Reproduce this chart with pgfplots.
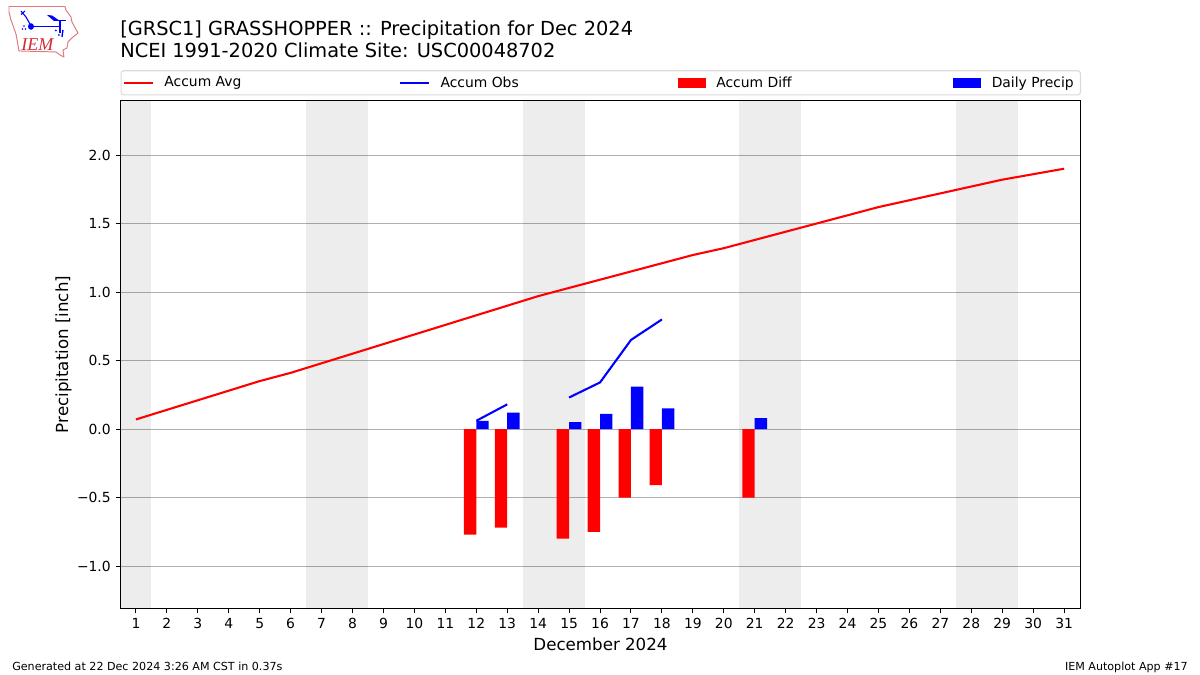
\documentclass[border=0pt]{standalone}
\usepackage{fontspec}
\setmainfont{DejaVu Sans}
\usepackage{pgfplots}
\pgfplotsset{compat=1.18}
\definecolor{gridgray}{HTML}{B0B0B0}
\definecolor{legbox}{HTML}{DADADA}
\definecolor{logored}{HTML}{DD7A7E}
\definecolor{logotext}{HTML}{D02C34}

\newcommand{\mplfont}[1]{\fontsize{#1bp}{#1bp}\selectfont}

\begin{document}
\begin{tikzpicture}
\path[use as bounding box] (0,0) rectangle (12in,6.75in);

% logo, rough
\begin{scope}[x=0.01in,y=-0.01in,shift={(0in,6.75in)}]
  \draw[logored,line width=0.7pt,line join=round] (9,6.5) -- (65,6.5) -- (66,10) -- (71,17) -- (72,22) -- (78,33) -- (72,38) -- (68,42) -- (67,48) -- (63,50) -- (64,57) -- (60,55) -- (56,52) -- (19,51) -- (18,45) -- (16,34) -- (11,20) -- (9,12) -- cycle;
  \fill[blue] (31,26.5) ellipse (3 and 3.3);
  \draw[blue,line width=1.1pt] (31,26.5) -- (60,26.5);
  \fill[blue] (47,15) -- (52,15.5) -- (60,21) -- (54,21) -- cycle;
  \draw[blue,line width=0.7pt] (54,21) -- (66,21);
  \draw[blue,line width=0.8pt] (60,21) -- (60,33);
  \draw[blue,line width=0.8pt] (21,11) -- (26,17) -- (30,24) (21,14.5) -- (25,11);
  \fill[blue] (24,26) circle (0.8) (22.5,29) circle (0.8) (25.5,29) circle (0.8);
  \draw[blue,line width=1pt] (63,30) -- (62,37);
  \fill[blue] (56,30.5) circle (1) (59,35) circle (1);
  \node[logotext,inner sep=0pt,anchor=center] at (37.5,44.5) {\fontspec{Liberation Serif}[Scale=1]\fontsize{13bp}{13bp}\selectfont\itshape IEM};
\end{scope}

\begin{axis}[
  at={(1.205in,0.665in)}, anchor=south west,
  scale only axis, width=9.6in, height=5.08in,
  xmin=0.5, xmax=31.53, ymin=-1.31, ymax=2.398,
  xtick={1,...,31},
  ytick={-1,-0.5,0,0.5,1,1.5,2},
  yticklabels={−1.0,−0.5,0.0,0.5,1.0,1.5,2.0},
  /pgf/number format/assume math mode=true,
  tick label style={font=\mplfont{10}},
  tick align=outside, tick pos=left,
  major tick length=3.5bp,
  every tick/.style={black,line width=0.7bp},
  axis line style={line width=0.7bp},
  ymajorgrids, grid style={gridgray,line width=0.7bp},
  xlabel={December 2024},
  ylabel={Precipitation [inch]},
  label style={font=\mplfont{12}},
  ylabel style={yshift=-0.04in},
  unbounded coords=jump,
  legend columns=4,
  legend cell align=left,
  legend style={at={(0,1)}, anchor=south west, yshift=0.05in, xshift=0pt,
    draw=legbox, line width=0.8bp, rounded corners=2bp,
    font=\mplfont{10}, inner xsep=0.02in, inner ysep=0.03in,
    /tikz/column 1/.style={column sep=0.075in},
    /tikz/column 2/.style={column sep=1.55in},
    /tikz/column 3/.style={column sep=0.075in},
    /tikz/column 4/.style={column sep=1.565in},
    /tikz/column 5/.style={column sep=0.075in},
    /tikz/column 6/.style={column sep=1.59in},
    /tikz/column 7/.style={column sep=0.075in}},
  line image/.style={legend image code/.code={\draw[##1,sharp corners,line width=1.5bp] (0,0) -- (0.29in,0);}},
  bar image/.style={legend image code/.code={\fill[##1,sharp corners] (0,-0.048in) rectangle (0.28in,0.048in);}},
]

% weekend spans
\addplot[draw=none,fill=black,fill opacity=0.07,forget plot] coordinates {(0.5,-1.31) (0.5,2.398) (1.5,2.398) (1.5,-1.31)} -- cycle;
\addplot[draw=none,fill=black,fill opacity=0.07,forget plot] coordinates {(6.5,-1.31) (6.5,2.398) (8.5,2.398) (8.5,-1.31)} -- cycle;
\addplot[draw=none,fill=black,fill opacity=0.07,forget plot] coordinates {(13.5,-1.31) (13.5,2.398) (15.5,2.398) (15.5,-1.31)} -- cycle;
\addplot[draw=none,fill=black,fill opacity=0.07,forget plot] coordinates {(20.5,-1.31) (20.5,2.398) (22.5,2.398) (22.5,-1.31)} -- cycle;
\addplot[draw=none,fill=black,fill opacity=0.07,forget plot] coordinates {(27.5,-1.31) (27.5,2.398) (29.5,2.398) (29.5,-1.31)} -- cycle;

\addplot[red,line width=1.5bp,line image] coordinates {
  (1,0.07) (2,0.14) (3,0.21) (4,0.28) (5,0.35) (6,0.41) (7,0.48) (8,0.55)
  (9,0.62) (10,0.69) (11,0.76) (12,0.83) (13,0.90) (14,0.97) (15,1.03)
  (16,1.09) (17,1.15) (18,1.21) (19,1.27) (20,1.32) (21,1.38) (22,1.44)
  (23,1.50) (24,1.56) (25,1.62) (26,1.67) (27,1.72) (28,1.77) (29,1.82)
  (30,1.86) (31,1.90)};
\addlegendentry{Accum Avg}

\addplot[blue,line width=1.5bp,line image] coordinates {
  (12,0.06) (13,0.18) (14,nan) (15,0.23) (16,0.34) (17,0.65) (18,0.80)};
\addlegendentry{Accum Obs}

\addplot[ybar,bar width=0.4,bar shift=-0.2,fill=red,draw=none,bar image] coordinates {
  (12,-0.77) (13,-0.72) (15,-0.80) (16,-0.75) (17,-0.50) (18,-0.41) (21,-0.50)};
\addlegendentry{Accum Diff}

\addplot[ybar,bar width=0.4,bar shift=0.2,fill=blue,draw=none,bar image] coordinates {
  (12,0.06) (13,0.12) (15,0.05) (16,0.11) (17,0.31) (18,0.15) (21,0.08)};
\addlegendentry{\mbox{Daily Precip\kern0.02in}}

\end{axis}

% titles and footers
\node[anchor=base west,inner sep=0pt,font=\mplfont{13.95}] at (1.2in,6.39in) {[GRSC1] GRASSHOPPER :: Precipitation for Dec 2024};
\node[anchor=base west,inner sep=0pt,font=\mplfont{13.95}] at (1.2in,6.17in) {NCEI 1991-2020 Climate Site: USC00048702};
\node[anchor=base west,inner sep=0pt,font=\mplfont{8}] at (0.12in,0.05in) {Generated at 22 Dec 2024 3:26 AM CST in 0.37s};
\node[anchor=base east,inner sep=0pt,font=\mplfont{8}] at (11.88in,0.05in) {IEM Autoplot App \#17};
\end{tikzpicture}
\end{document}
